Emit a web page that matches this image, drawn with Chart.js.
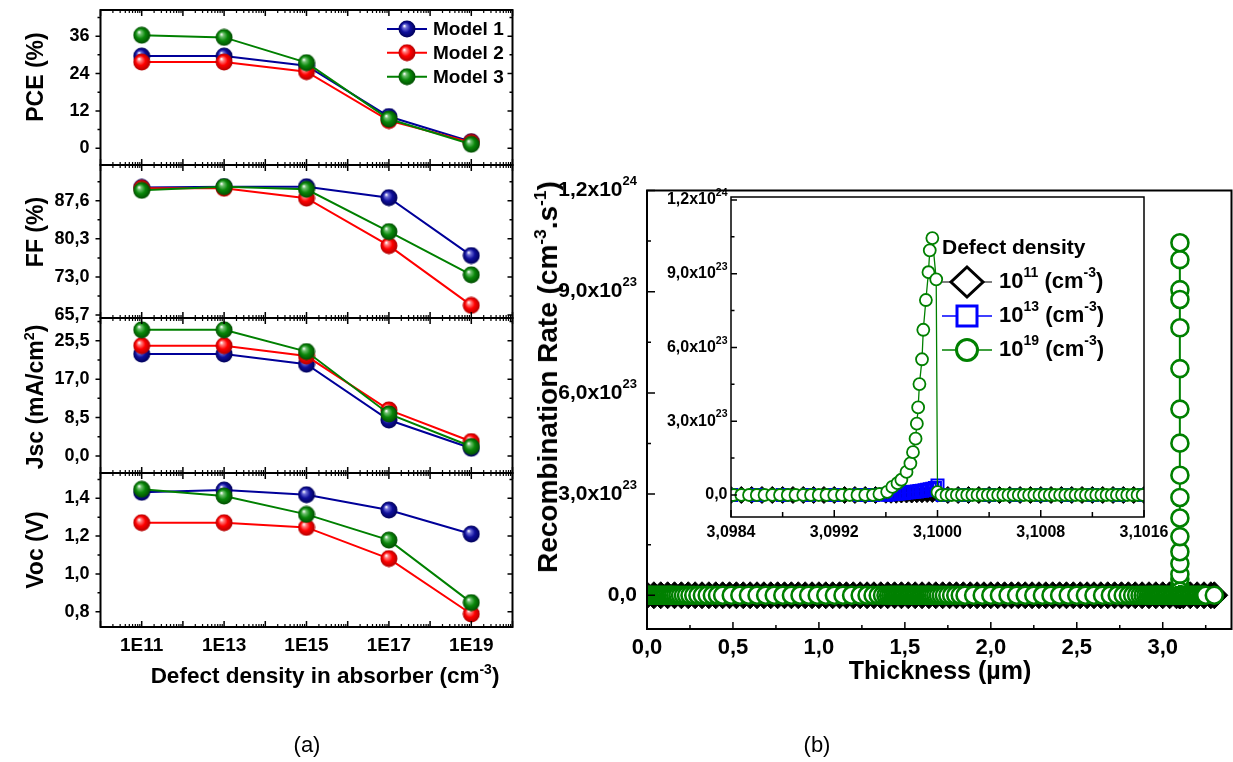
<!DOCTYPE html>
<html>
<head>
<meta charset="utf-8">
<title>Defect density study</title>
<script src="https://cdn.jsdelivr.net/npm/chart.js@4.4.1/dist/chart.umd.min.js"></script>
<style>
  html, body { margin:0; padding:0; background:#fff; }
  #wrap { position:relative; width:1233px; height:762px; overflow:hidden; background:#fff;
          font-family:'Liberation Sans', Arial, Helvetica, sans-serif; color:#000; }
  #wrap canvas { position:absolute; left:0; top:0; }
  .t { position:absolute; white-space:nowrap; font-weight:bold; line-height:1; transform:translate(-50%,-50%); }
  .rot { transform:translate(-50%,-50%) rotate(-90deg); }
  .s { font-size:0.62em; position:relative; top:-0.62em; }
  .cap { font-weight:normal; }
</style>
</head>
<body>
<div id="wrap">
  <canvas id="cPCE" width="1233" height="762"></canvas>
  <canvas id="cFF" width="1233" height="762"></canvas>
  <canvas id="cJSC" width="1233" height="762"></canvas>
  <canvas id="cVOC" width="1233" height="762"></canvas>
  <canvas id="cMain" width="1233" height="762"></canvas>
  <canvas id="cInset" width="1233" height="762"></canvas>
  <div class="t rot" style="left:35px;top:77px;font-size:23px">PCE (%)</div>
  <div class="t rot" style="left:35px;top:232px;font-size:23px">FF (%)</div>
  <div class="t rot" style="left:35px;top:397px;font-size:23px">Jsc (mA/cm<span class="s">2</span>)</div>
  <div class="t rot" style="left:35px;top:550px;font-size:23px">Voc (V)</div>
  <div class="t" style="left:325px;top:676px;font-size:22.5px">Defect density in absorber (cm<span class="s">-3</span>)</div>
  <div class="t rot" style="left:548px;top:377px;font-size:28px">Recombination Rate (cm<span class="s">-3</span>.s<span class="s">-1</span>)</div>
  <div class="t" style="left:940px;top:670px;font-size:25px">Thickness (µm)</div>
  <div class="t cap" style="left:307px;top:745px;font-size:22px">(a)</div>
  <div class="t cap" style="left:817px;top:745px;font-size:22px">(b)</div>
</div>
<script>
const FONT = "'Liberation Sans', Arial, Helvetica, sans-serif";

// ================= (a) data =================
const densities = [1e11, 1e13, 1e15, 1e17, 1e19];
const densityTickLabels = ['1E11', '1E13', '1E15', '1E17', '1E19'];
const modelNames = ['Model 1', 'Model 2', 'Model 3'];

const pceModel1 = [29.6, 29.6, 26.5, 10.2, 2.1];
const pceModel2 = [27.7, 27.7, 24.6, 8.9, 1.9];
const pceModel3 = [36.3, 35.6, 27.5, 9.4, 1.3];

const ffModel1 = [90.15, 90.3, 90.3, 88.2, 77.1];
const ffModel2 = [90.0, 90.0, 88.1, 79.0, 67.55];
const ffModel3 = [89.6, 90.3, 89.8, 81.7, 73.4];

const jscModel1 = [22.55, 22.55, 20.3, 7.96, 1.7];
const jscModel2 = [24.4, 24.4, 22.1, 10.2, 3.2];
const jscModel3 = [27.9, 27.9, 23.1, 9.3, 2.1];

const vocModel1 = [1.432, 1.444, 1.419, 1.338, 1.211];
const vocModel2 = [1.271, 1.271, 1.246, 1.081, 0.788];
const vocModel3 = [1.448, 1.412, 1.315, 1.179, 0.848];

const pceTicks = [0, 12, 24, 36];
const pceTickLabels = ['0', '12', '24', '36'];
const pceMinor = [6, 18, 30, 42];
const ffTicks = [65.7, 73.0, 80.3, 87.6];
const ffTickLabels = ['65,7', '73,0', '80,3', '87,6'];
const ffMinor = [69.35, 76.65, 83.95, 91.25];
const jscTicks = [0, 8.5, 17, 25.5];
const jscTickLabels = ['0,0', '8,5', '17,0', '25,5'];
const jscMinor = [4.25, 12.75, 21.25, 29.75];
const vocTicks = [0.8, 1.0, 1.2, 1.4];
const vocTickLabels = ['0,8', '1,0', '1,2', '1,4'];
const vocMinor = [0.9, 1.1, 1.3, 1.5];
const decadeTicks = [1e10, 1e11, 1e12, 1e13, 1e14, 1e15, 1e16, 1e17, 1e18, 1e19, 1e20];

// ================= (b) data =================
// x: thickness (µm), y: recombination rate in units of 10^23 cm^-3 s^-1
const rate1e11 = [
 [0,0],[0.04,0],[0.08,0],[0.12,0],[0.16,0],[0.2,0],[0.24,0],[0.28,0],[0.32,0],[0.36,0],
 [0.4,0],[0.44,0],[0.48,0],[0.52,0],[0.56,0],[0.6,0],[0.64,0],[0.68,0],[0.72,0],[0.76,0],
 [0.8,0],[0.84,0],[0.88,0],[0.92,0],[0.96,0],[1.0,0],[1.04,0],[1.08,0],[1.12,0],[1.16,0],
 [1.2,0],[1.24,0],[1.28,0],[1.32,0],[1.36,0],[1.4,0],[1.44,0],[1.48,0],[1.52,0],[1.56,0],
 [1.6,0],[1.64,0],[1.68,0],[1.72,0],[1.76,0],[1.8,0],[1.84,0],[1.88,0],[1.92,0],[1.96,0],
 [2.0,0],[2.04,0],[2.08,0],[2.12,0],[2.16,0],[2.2,0],[2.24,0],[2.28,0],[2.32,0],[2.36,0],
 [2.4,0],[2.44,0],[2.48,0],[2.52,0],[2.56,0],[2.6,0],[2.64,0],[2.68,0],[2.72,0],[2.76,0],
 [2.8,0],[2.84,0],[2.88,0],[2.92,0],[2.96,0],[3.0,0],[3.04,0],[3.08,0],
 [3.0984,0],[3.09848,0],[3.09856,0],[3.09864,0],[3.09872,0],[3.0988,0],[3.09888,0],[3.09896,0],
 [3.09904,0],[3.09912,0],[3.0992,0],[3.09928,0],[3.09936,0],[3.09944,0],[3.09952,0],
 [3.0996,0.01],[3.09964,0.01],[3.09968,0.01],[3.09972,0.02],[3.09976,0.02],[3.0998,0.02],
 [3.09984,0.03],[3.09988,0.03],[3.09992,0.04],[3.09996,0.04],[3.1,0.05],
 [3.10008,0],[3.10016,0],[3.10024,0],[3.10032,0],[3.1004,0],[3.10048,0],[3.10056,0],[3.10064,0],
 [3.10072,0],[3.1008,0],[3.10088,0],[3.10096,0],[3.10104,0],[3.10112,0],[3.1012,0],[3.10128,0],
 [3.10136,0],[3.10144,0],[3.10152,0],[3.1016,0],
 [3.12,0],[3.16,0],[3.2,0],[3.24,0],[3.28,0],[3.3,0]
];
const rate1e13 = [
 [0,0],[0.1,0],[0.2,0],[0.3,0],[0.4,0],[0.5,0],[0.6,0],[0.7,0],[0.8,0],[0.9,0],[1.0,0],
 [1.1,0],[1.2,0],[1.3,0],[1.4,0],[1.5,0],[1.6,0],[1.7,0],[1.8,0],[1.9,0],[2.0,0],
 [2.1,0],[2.2,0],[2.3,0],[2.4,0],[2.5,0],[2.6,0],[2.7,0],[2.8,0],[2.9,0],[3.0,0],[3.05,0],
 [3.0984,0],[3.0986,0],[3.0988,0],[3.099,0],[3.0992,0],[3.0994,0],[3.0995,0],
 [3.0996,0.01],[3.09962,0.02],[3.09964,0.03],[3.09966,0.04],[3.09968,0.05],[3.0997,0.06],
 [3.09972,0.07],[3.09974,0.08],[3.09976,0.1],[3.09978,0.11],[3.0998,0.12],[3.09982,0.13],
 [3.09984,0.14],[3.09986,0.16],[3.09988,0.17],[3.0999,0.19],[3.09992,0.21],[3.09994,0.23],
 [3.09996,0.25],[3.09998,0.28],[3.1,0.39],
 [3.10004,0],[3.1002,0],[3.1004,0],[3.1006,0],[3.1008,0],[3.101,0],[3.1012,0],[3.1014,0],[3.1016,0],
 [3.15,0],[3.2,0],[3.25,0],[3.3,0]
];
const rate1e19 = [
 [0,0],[0.01,0],[0.02,0],[0.03,0],[0.04,0],[0.05,0],[0.06,0],[0.07,0],[0.08,0],[0.09,0],
 [0.1,0],[0.11,0],[0.12,0],[0.13,0],
 [0.137,0],[0.145,0],[0.155,0],[0.167,0],[0.18,0],[0.195,0],[0.212,0],[0.23,0],[0.25,0],
 [0.272,0],[0.296,0],[0.322,0],[0.35,0],[0.38,0],[0.41,0],[0.44,0],
 [0.49,0],[0.54,0],[0.59,0],[0.64,0],[0.69,0],[0.74,0],[0.79,0],[0.84,0],[0.89,0],[0.94,0],
 [0.99,0],[1.04,0],[1.09,0],[1.14,0],[1.19,0],[1.24,0],
 [1.28,0],[1.315,0],[1.345,0],[1.37,0],[1.39,0],[1.405,0],[1.418,0],[1.43,0],[1.44,0],[1.45,0],[1.46,0],
 [1.47,0],[1.48,0],[1.49,0],[1.5,0],[1.51,0],[1.52,0],[1.53,0],[1.54,0],[1.55,0],[1.56,0],
 [1.57,0],[1.58,0],[1.59,0],[1.6,0],[1.61,0],[1.62,0],[1.63,0],
 [1.637,0],[1.645,0],[1.655,0],[1.667,0],[1.68,0],[1.695,0],[1.712,0],[1.73,0],[1.75,0],
 [1.772,0],[1.796,0],[1.822,0],[1.85,0],
 [1.9,0],[1.95,0],[2.0,0],[2.05,0],[2.1,0],[2.15,0],[2.2,0],[2.25,0],[2.3,0],[2.35,0],
 [2.4,0],[2.45,0],[2.5,0],[2.55,0],[2.6,0],[2.65,0],
 [2.695,0],[2.735,0],[2.77,0],[2.8,0],[2.825,0],[2.848,0],[2.868,0],[2.886,0],[2.902,0],
 [2.916,0],[2.928,0],[2.939,0],[2.949,0],[2.958,0],[2.966,0],[2.973,0],[2.98,0],
 [2.99,0],[3.0,0],[3.01,0],[3.02,0],[3.03,0],[3.04,0],[3.05,0],[3.06,0],[3.07,0],[3.08,0],
 [3.09,0],[3.095,0],[3.098,0],
 [3.09842,0],[3.09848,0],[3.09854,0],[3.0986,0],[3.09866,0],[3.09872,0],[3.09878,0],[3.09884,0],
 [3.0989,0],[3.09896,0],[3.09902,0],[3.09908,0],[3.09914,0],[3.0992,0],[3.09926,0],[3.09932,0],
 [3.09938,0],[3.09944,0],[3.0995,0],
 [3.09955,0.04],[3.09961,0.13],[3.09965,0.33],[3.09969,0.48],[3.09972,0.62],[3.09976,0.94],
 [3.09979,1.29],[3.09981,1.74],[3.09983,2.29],[3.09984,2.9],[3.09985,3.56],[3.09986,4.51],
 [3.09988,5.52],[3.09989,6.72],[3.09991,7.93],[3.09993,9.06],[3.09994,9.95],[3.09996,10.45],
 [3.09999,8.77],[3.1,0.12],
 [3.10003,0],[3.10007,0],[3.10011,0],[3.10015,0],[3.10019,0],[3.10023,0],[3.10027,0],[3.10031,0],
 [3.10035,0],[3.10039,0],[3.10043,0],[3.10047,0],[3.10051,0],[3.10055,0],[3.10059,0],[3.10063,0],
 [3.10067,0],[3.10071,0],[3.10075,0],[3.10079,0],[3.10083,0],[3.10087,0],[3.10091,0],[3.10095,0],
 [3.10099,0],[3.10103,0],[3.10107,0],[3.10111,0],[3.10115,0],[3.10119,0],[3.10123,0],[3.10127,0],
 [3.10131,0],[3.10135,0],[3.10139,0],[3.10143,0],[3.10147,0],[3.10151,0],[3.10155,0],[3.10159,0],
 [3.102,0],[3.105,0],[3.11,0],[3.12,0],[3.13,0],[3.14,0],[3.15,0],[3.16,0],[3.17,0],[3.18,0],
 [3.19,0],[3.2,0],[3.21,0],[3.22,0],[3.23,0],[3.24,0],[3.25,0],[3.3,0]
];

const thicknessTicks = [0, 0.5, 1.0, 1.5, 2.0, 2.5, 3.0];
const thicknessTickLabels = ['0,0', '0,5', '1,0', '1,5', '2,0', '2,5', '3,0'];
const thicknessMinor = [0.25, 0.75, 1.25, 1.75, 2.25, 2.75, 3.25];
const rateTicks = [0, 3, 6, 9, 12];
const rateTickMantissa = ['0,0', '3,0x10', '6,0x10', '9,0x10', '1,2x10'];
const rateTickExponent = ['', '23', '23', '23', '24'];
const rateMinor = [1.5, 4.5, 7.5, 10.5];
const insetTicks = [3.0984, 3.0992, 3.1000, 3.1008, 3.1016];
const insetTickLabels = ['3,0984', '3,0992', '3,1000', '3,1008', '3,1016'];
const insetMinor = [3.0988, 3.0996, 3.1004, 3.1012];
const legendTitle = 'Defect density';
const legendExponents = ['11', '13', '19'];

// ================= helpers =================
const modelColors = ['#000099', '#ff0000', '#008000'];
function sphere(base, light, dark) {
  const s = 18, r = 8.5;
  const c = document.createElement('canvas'); c.width = s; c.height = s;
  const g = c.getContext('2d');
  const gr = g.createRadialGradient(s/2 - 2.8, s/2 - 3.2, 0.3, s/2, s/2, r);
  gr.addColorStop(0, '#ffffff');
  gr.addColorStop(0.2, light);
  gr.addColorStop(0.55, base);
  gr.addColorStop(1, dark);
  g.fillStyle = gr; g.beginPath(); g.arc(s/2, s/2, r, 0, Math.PI * 2); g.fill();
  return c;
}
const spheres = [
  sphere('#10109c', '#7070d8', '#000058'),
  sphere('#ff0000', '#ff8080', '#b00000'),
  sphere('#0a880a', '#70c070', '#004c00')
];

function drawRich(ctx, parts, x, y, size, supSize, align) {
  const fN = `bold ${size}px ${FONT}`, fS = `bold ${supSize}px ${FONT}`;
  let w = 0;
  const ws = parts.map(p => { ctx.font = p.sup ? fS : fN; const m = ctx.measureText(p.t).width; w += m; return m; });
  let cx = align === 'right' ? x - w : (align === 'center' ? x - w / 2 : x);
  ctx.textBaseline = 'middle'; ctx.textAlign = 'left';
  parts.forEach((p, i) => {
    ctx.font = p.sup ? fS : fN;
    ctx.fillText(p.t, cx, p.sup ? y - size * 0.42 : y);
    cx += ws[i];
  });
}

function decoPlugin(cfg) {
  return {
    id: 'deco',
    beforeDraw(chart) {
      if (!cfg.fill) return;
      const a = chart.chartArea, ctx = chart.ctx;
      ctx.save(); ctx.fillStyle = cfg.fill;
      ctx.fillRect(a.left, a.top, a.right - a.left, a.bottom - a.top);
      ctx.restore();
    },
    afterDraw(chart) {
      const {ctx, chartArea: a, scales} = chart;
      ctx.save();
      ctx.strokeStyle = '#000'; ctx.lineCap = 'butt';
      (cfg.marks || []).forEach(m => {
        const sc = scales[m.axis];
        ctx.lineWidth = m.width || 1.5;
        ctx.beginPath();
        m.values.forEach(v => {
          const p = sc.getPixelForValue(v);
          m.sides.forEach(side => {
            const L = m.len;
            if (side === 'bottom') { ctx.moveTo(p, a.bottom); ctx.lineTo(p, a.bottom - L); }
            else if (side === 'top') { ctx.moveTo(p, a.top); ctx.lineTo(p, a.top + L); }
            else if (side === 'left') { ctx.moveTo(a.left, p); ctx.lineTo(a.left + (m.out ? -L : L), p); }
            else if (side === 'right') { ctx.moveTo(a.right, p); ctx.lineTo(a.right - L, p); }
          });
        });
        ctx.stroke();
      });
      if (cfg.frame) {
        ctx.lineWidth = cfg.frame;
        ctx.strokeRect(a.left, a.top, a.right - a.left, a.bottom - a.top);
      }
      if (cfg.supLabels) {
        const s = cfg.supLabels, sc = scales.y;
        ctx.fillStyle = '#000';
        s.values.forEach((v, i) => {
          const p = sc.getPixelForValue(v);
          const parts = [{t: s.mant[i]}];
          if (s.exp[i]) parts.push({t: s.exp[i], sup: true});
          drawRich(ctx, parts, a.left - s.gap, p, s.size, s.supSize, 'right');
        });
      }
      if (cfg.modelLegend) drawModelLegend(ctx);
      if (cfg.densityLegend) drawDensityLegend(ctx);
      ctx.restore();
    }
  };
}

function drawModelLegend(ctx) {
  const ys = [29, 52.7, 76.7];
  ys.forEach((y, i) => {
    ctx.strokeStyle = modelColors[i]; ctx.lineWidth = 2;
    ctx.beginPath(); ctx.moveTo(387, y); ctx.lineTo(427, y); ctx.stroke();
    ctx.drawImage(spheres[i], 407 - 9, y - 9);
    ctx.fillStyle = '#000'; ctx.font = `bold 19px ${FONT}`;
    ctx.textAlign = 'left'; ctx.textBaseline = 'middle';
    ctx.fillText(modelNames[i], 433, y + 1);
  });
}

function drawDensityLegend(ctx) {
  ctx.fillStyle = '#000'; ctx.font = `bold 21px ${FONT}`;
  ctx.textAlign = 'left'; ctx.textBaseline = 'middle';
  ctx.fillText(legendTitle, 942, 248);
  const ys = [282, 316, 350];
  const cols = ['#000000', '#0000ff', '#008000'];
  const lineCols = ['#555555', '#0000ff', '#008000'];
  ys.forEach((y, i) => {
    ctx.strokeStyle = lineCols[i]; ctx.lineWidth = 1.5;
    ctx.beginPath(); ctx.moveTo(942, y); ctx.lineTo(992, y); ctx.stroke();
    ctx.strokeStyle = cols[i]; ctx.lineWidth = 3; ctx.fillStyle = '#fff';
    ctx.beginPath();
    if (i === 0) { ctx.moveTo(967, y - 15); ctx.lineTo(983, y); ctx.lineTo(967, y + 15); ctx.lineTo(951, y); ctx.closePath(); }
    else if (i === 1) { ctx.rect(957, y - 10, 20, 20); }
    else { ctx.arc(967, y, 10.5, 0, Math.PI * 2); }
    ctx.fill(); ctx.stroke();
    ctx.fillStyle = '#000';
    drawRich(ctx, [{t: '10'}, {t: legendExponents[i], sup: true}, {t: ' (cm'}, {t: '-3', sup: true}, {t: ')'}],
             999, y, 22, 14, 'left');
  });
}

// ================= (a) charts =================
const minorLog = [];
for (let e = 10; e < 20; e++) for (let k = 2; k <= 9; k++) minorLog.push(k * Math.pow(10, e));
const LX0 = 100.5, LX1 = 512.5, YW = 60, XH = 44;
const tickFont18 = {family: FONT, size: 18, weight: 'bold'};

function leftChart(id, series, yMin, yMax, yTicks, yLabels, yMinor, top, bottom, showX, legend) {
  const datasets = series.map((vals, i) => ({
    label: modelNames[i],
    data: densities.map((d, j) => ({x: d, y: vals[j]})),
    borderColor: modelColors[i], backgroundColor: modelColors[i], borderWidth: 2,
    pointStyle: spheres[i], pointRadius: 8, pointHoverRadius: 8,
    order: 2 - i, fill: false, tension: 0
  }));
  new Chart(document.getElementById(id), {
    type: 'line',
    data: {datasets},
    options: {
      responsive: false, animation: false, events: [],
      layout: {autoPadding: false, padding: {left: LX0 - YW, right: 1233 - LX1, top: top, bottom: 762 - bottom - (showX ? XH : 0)}},
      plugins: {legend: {display: false}, tooltip: {enabled: false}},
      scales: {
        x: {
          type: 'logarithmic', min: 1e10, max: 1e20, display: showX,
          grid: {display: false, drawTicks: false}, border: {display: false},
          afterBuildTicks: s => { s.ticks = densities.map(v => ({value: v})); },
          afterFit: s => { s.height = showX ? XH : 0; s.paddingLeft = 0; s.paddingRight = 0; },
          ticks: {callback: (v, i) => densityTickLabels[i], font: {family: FONT, size: 19, weight: 'bold'}, color: '#000', padding: 7, maxRotation: 0, autoSkip: false}
        },
        y: {
          type: 'linear', min: yMin, max: yMax,
          grid: {display: false, drawTicks: false}, border: {display: false},
          afterBuildTicks: s => { s.ticks = yTicks.map(v => ({value: v})); },
          afterFit: s => { s.width = YW; s.paddingTop = 0; s.paddingBottom = 0; },
          ticks: {callback: (v, i) => yLabels[i], font: tickFont18, color: '#000', padding: 11}
        }
      }
    },
    plugins: [decoPlugin({
      frame: 2,
      modelLegend: legend,
      marks: [
        {axis: 'x', values: decadeTicks, sides: ['bottom', 'top'], len: 6},
        {axis: 'x', values: minorLog, sides: ['bottom', 'top'], len: 3, width: 1.2},
        {axis: 'y', values: yTicks, sides: ['left'], len: 5, out: true},
        {axis: 'y', values: yMinor, sides: ['left'], len: 3, out: true},
        {axis: 'y', values: yTicks, sides: ['right'], len: 5},
        {axis: 'y', values: yMinor, sides: ['right'], len: 3}
      ]
    })]
  });
}

leftChart('cPCE', [pceModel1, pceModel2, pceModel3], -5.36, 44.4, pceTicks, pceTickLabels, pceMinor, 10, 165, false, true);
leftChart('cFF', [ffModel1, ffModel2, ffModel3], 65.13, 94.46, ffTicks, ffTickLabels, ffMinor, 165, 318, false, false);
leftChart('cJSC', [jscModel1, jscModel2, jscModel3], -3.76, 30.52, jscTicks, jscTickLabels, jscMinor, 318, 473, false, false);
leftChart('cVOC', [vocModel1, vocModel2, vocModel3], 0.719, 1.534, vocTicks, vocTickLabels, vocMinor, 473, 627, true, false);

// ================= (b) charts =================
function rateSets(big) {
  return [
    {label: '10^19', data: rate1e19.map(p => ({x: p[0], y: p[1]})), order: 0,
     borderColor: '#008000', borderWidth: big ? 2 : 1.3, pointStyle: 'circle',
     pointRadius: big ? 8.5 : 6, pointBorderWidth: big ? 2.6 : 1.8, pointBorderColor: '#008000',
     pointBackgroundColor: '#ffffff', tension: 0},
    {label: '10^13', data: rate1e13.map(p => ({x: p[0], y: p[1]})), order: 1,
     borderColor: '#0000ff', borderWidth: 1.3, pointStyle: 'rect',
     pointRadius: big ? 8 : 8.5, pointBorderWidth: 2, pointBorderColor: '#0000ff',
     pointBackgroundColor: 'rgba(255,255,255,0)', tension: 0},
    {label: '10^11', data: rate1e11.map(p => ({x: p[0], y: p[1]})), order: 2,
     borderColor: '#000000', borderWidth: 1.3, pointStyle: 'rectRot',
     pointRadius: big ? 13.5 : 8.5, pointBorderWidth: 1, pointBorderColor: '#000000',
     pointBackgroundColor: '#000000', tension: 0}
  ];
}

const MXH = 40;
new Chart(document.getElementById('cMain'), {
  type: 'line',
  data: {datasets: rateSets(true)},
  options: {
    responsive: false, animation: false, events: [],
    layout: {autoPadding: false, padding: {left: 647, right: 1233 - 1231.5, top: 190.5, bottom: 762 - 629 - MXH}},
    plugins: {legend: {display: false}, tooltip: {enabled: false}},
    scales: {
      x: {
        type: 'linear', min: 0, max: 3.4,
        grid: {display: false, drawTicks: false}, border: {display: false},
        afterBuildTicks: s => { s.ticks = thicknessTicks.map(v => ({value: v})); },
        afterFit: s => { s.height = MXH; s.paddingLeft = 0; s.paddingRight = 0; },
        ticks: {callback: (v, i) => thicknessTickLabels[i], font: {family: FONT, size: 22, weight: 'bold'}, color: '#000', padding: 6, maxRotation: 0, autoSkip: false}
      },
      y: {type: 'linear', min: -1.0, max: 12.0, display: false}
    }
  },
  plugins: [decoPlugin({
    frame: 2,
    supLabels: {values: rateTicks, mant: rateTickMantissa, exp: rateTickExponent, gap: 10, size: 21, supSize: 13},
    marks: [
      {axis: 'x', values: thicknessTicks, sides: ['bottom'], len: 7},
      {axis: 'x', values: thicknessMinor, sides: ['bottom'], len: 4},
      {axis: 'y', values: rateTicks, sides: ['left'], len: 8},
      {axis: 'y', values: rateMinor, sides: ['left'], len: 4}
    ]
  })]
});

const IXH = 30;
new Chart(document.getElementById('cInset'), {
  type: 'line',
  data: {datasets: rateSets(false)},
  options: {
    responsive: false, animation: false, events: [],
    layout: {autoPadding: false, padding: {left: 731, right: 1233 - 1144, top: 197, bottom: 762 - 517 - IXH}},
    plugins: {legend: {display: false}, tooltip: {enabled: false}},
    scales: {
      x: {
        type: 'linear', min: 3.0984, max: 3.1016,
        grid: {display: false, drawTicks: false}, border: {display: false},
        afterBuildTicks: s => { s.ticks = insetTicks.map(v => ({value: v})); },
        afterFit: s => { s.height = IXH; s.paddingLeft = 0; s.paddingRight = 0; },
        ticks: {callback: (v, i) => insetTickLabels[i], font: {family: FONT, size: 16, weight: 'bold'}, color: '#000', padding: 6, maxRotation: 0, autoSkip: false}
      },
      y: {type: 'linear', min: -0.895, max: 12.12, display: false}
    }
  },
  plugins: [decoPlugin({
    fill: '#ffffff',
    frame: 1.5,
    densityLegend: true,
    supLabels: {values: rateTicks, mant: rateTickMantissa, exp: rateTickExponent, gap: 3.5, size: 16, supSize: 10.5},
    marks: [
      {axis: 'x', values: insetTicks, sides: ['bottom'], len: 7},
      {axis: 'x', values: insetMinor, sides: ['bottom'], len: 5},
      {axis: 'y', values: rateTicks, sides: ['left'], len: 6},
      {axis: 'y', values: rateMinor, sides: ['left'], len: 3.5}
    ]
  })]
});
</script>
</body>
</html>
